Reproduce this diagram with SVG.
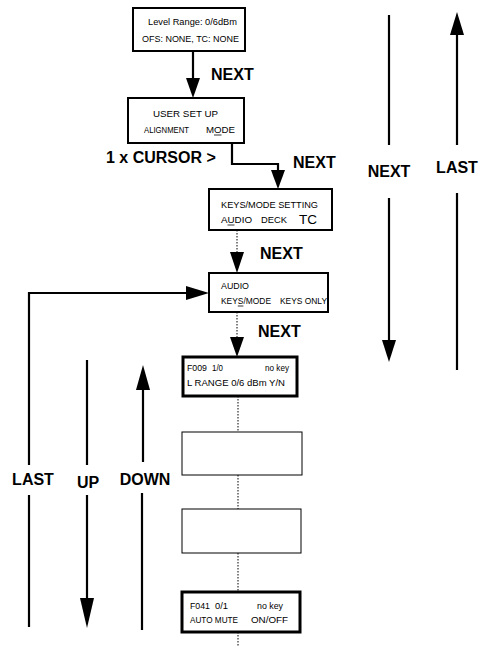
<svg xmlns="http://www.w3.org/2000/svg" width="484" height="647" viewBox="0 0 484 647">
<style>
.box{fill:#fff;stroke:#000;stroke-width:2}
.thick{stroke-width:3}
.thin{stroke-width:1}
.t{font-family:"Liberation Sans",Arial,sans-serif;font-size:9.5px;fill:#000}
.lbl{font-family:"Liberation Sans",Arial,sans-serif;font-size:16px;font-weight:bold;fill:#000}
.c{text-anchor:middle}
.ln{fill:none;stroke:#000;stroke-width:2.2}
.dot{fill:none;stroke:#000;stroke-width:1;stroke-dasharray:1.5 1.5}
.ah{fill:#000}
.ul{stroke:#000;stroke-width:0.8}
</style>
<rect width="484" height="647" fill="#fff"/>
<g id="connectors">
<path class="ln" d="M193,51 V80"/>
<polygon class="ah" points="186,78 200,78 193,98"/>
<path class="ln" d="M232,143 V164 H278 V172"/>
<polygon class="ah" points="271,170 285,170 278,189"/>
<path class="dot" d="M237,230 V253"/>
<polygon class="ah" points="230,252 244,252 237,273"/>
<path class="dot" d="M237,312 V338"/>
<polygon class="ah" points="230,337 244,337 237,357"/>
<path class="dot" d="M238,396 V432"/>
<path class="dot" d="M238,475 V509"/>
<path class="dot" d="M238,553 V592"/>
<path class="dot" d="M238,632 V647"/>
<path class="ln" d="M29,465 V293 H188"/>
<polygon class="ah" points="186,286 186,300 209,293"/>
<path class="ln" d="M29,495 V627"/>
<path class="ln" d="M87,360 V465"/>
<path class="ln" d="M87,495 V600"/>
<polygon class="ah" points="80,598 94,598 87,628"/>
<path class="ln" d="M143,462 V388"/>
<polygon class="ah" points="136,390 150,390 143,365"/>
<path class="ln" d="M142,493 V630"/>
<path class="ln" d="M389,15 V145"/>
<path class="ln" d="M389,198 V342"/>
<polygon class="ah" points="382,340 396,340 389,362"/>
<path class="ln" d="M457,145 V33"/>
<polygon class="ah" points="450,35 464,35 457,12"/>
<path class="ln" d="M457,193 V370"/>
<text class="lbl" x="211" y="80">NEXT</text>
<text class="lbl" x="106" y="163">1 x CURSOR &gt;</text>
<text class="lbl" x="293" y="168">NEXT</text>
<text class="lbl" x="260" y="259">NEXT</text>
<text class="lbl" x="258" y="337">NEXT</text>
<text class="lbl c" x="389" y="177">NEXT</text>
<text class="lbl c" x="457" y="173">LAST</text>
<text class="lbl c" x="33" y="485">LAST</text>
<text class="lbl c" x="88" y="488">UP</text>
<text class="lbl c" x="145" y="485">DOWN</text>
</g>
<g id="n1">
<rect class="box" x="133" y="8" width="112" height="43"/>
<text class="t" x="148" y="25" textLength="89" lengthAdjust="spacingAndGlyphs">Level Range: 0/6dBm</text>
<text class="t" x="142" y="42" textLength="97" lengthAdjust="spacingAndGlyphs">OFS: NONE, TC: NONE</text>
</g>
<g id="n2">
<rect class="box" x="128" y="98" width="116" height="45"/>
<text class="t" x="153" y="117" textLength="65" lengthAdjust="spacingAndGlyphs">USER SET UP</text>
<text class="t" x="144" y="133" textLength="45" lengthAdjust="spacingAndGlyphs">ALIGNMENT</text>
<text class="t" x="206" y="133" textLength="29" lengthAdjust="spacingAndGlyphs">MODE</text>
<line class="ul" x1="214" y1="135" x2="221.5" y2="135"/>
</g>
<g id="n3">
<rect class="box" x="209" y="189" width="123" height="41"/>
<text class="t" x="221" y="208" textLength="97" lengthAdjust="spacingAndGlyphs">KEYS/MODE SETTING</text>
<text class="t" x="221" y="223" textLength="31" lengthAdjust="spacingAndGlyphs">AUDIO</text>
<line class="ul" x1="227.5" y1="225" x2="234.5" y2="225"/>
<text class="t" x="261" y="223" textLength="26" lengthAdjust="spacingAndGlyphs">DECK</text>
<text class="t" x="299" y="224" style="font-size:13px" textLength="18" lengthAdjust="spacingAndGlyphs">TC</text>
</g>
<g id="n4">
<rect class="box" x="209" y="273" width="119" height="39"/>
<text class="t" x="221" y="289" textLength="28" lengthAdjust="spacingAndGlyphs">AUDIO</text>
<text class="t" x="221" y="304" textLength="50" lengthAdjust="spacingAndGlyphs">KEYS/MODE</text>
<line class="ul" x1="237.8" y1="306" x2="243.4" y2="306"/>
<text class="t" x="280" y="304" textLength="47" lengthAdjust="spacingAndGlyphs">KEYS ONLY</text>
</g>
<g id="n5">
<rect class="box thick" x="183" y="357" width="114" height="39"/>
<text class="t" x="187" y="371" textLength="20" lengthAdjust="spacingAndGlyphs">F009</text>
<text class="t" x="212" y="371" textLength="11" lengthAdjust="spacingAndGlyphs">1/0</text>
<text class="t" x="265" y="371" textLength="24" lengthAdjust="spacingAndGlyphs">no key</text>
<text class="t" x="187" y="386" textLength="98" lengthAdjust="spacingAndGlyphs">L RANGE 0/6 dBm Y/N</text>
</g>
<g id="n6">
<rect class="box thin" x="182" y="432" width="120" height="43"/>
</g>
<g id="n7">
<rect class="box thin" x="182" y="509" width="119" height="44"/>
</g>
<g id="n8">
<rect class="box thick" x="182" y="592" width="118" height="40"/>
<text class="t" x="190" y="609" textLength="20" lengthAdjust="spacingAndGlyphs">F041</text>
<text class="t" x="215" y="609" textLength="13" lengthAdjust="spacingAndGlyphs">0/1</text>
<text class="t" x="257" y="609" textLength="26" lengthAdjust="spacingAndGlyphs">no key</text>
<text class="t" x="190" y="623" textLength="48" lengthAdjust="spacingAndGlyphs">AUTO MUTE</text>
<text class="t" x="251" y="623" textLength="37" lengthAdjust="spacingAndGlyphs">ON/OFF</text>
</g>
</svg>
